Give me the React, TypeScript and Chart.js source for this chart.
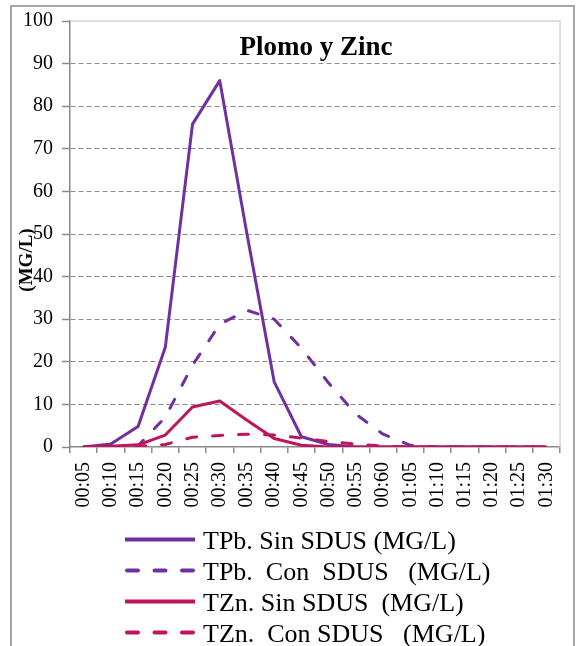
import React, { useEffect, useRef } from "react";
import { Chart, registerables } from "chart.js";

Chart.register(...registerables);

const categories = [
  "00:05", "00:10", "00:15", "00:20", "00:25", "00:30", "00:35", "00:40", "00:45",
  "00:50", "00:55", "00:60", "01:05", "01:10", "01:15", "01:20", "01:25", "01:30",
];

const tpbSin = [0, 0.7, 4.8, 23.4, 75.8, 86.0, 50.0, 15.3, 2.4, 0.6, 0, 0, 0, 0, 0, 0, 0, 0];
const tpbCon = [0, 0, 0.3, 7.0, 19.2, 28.8, 32.1, 30.0, 23.2, 15.0, 7.7, 3.0, 0.4, 0, 0, 0, 0, 0];
const tznSin = [0, 0.2, 0.5, 2.8, 9.4, 10.8, 6.3, 2.0, 0.4, 0, 0, 0, 0, 0, 0, 0, 0, 0];
const tznCon = [0, 0, 0.2, 0.6, 2.3, 2.7, 3.0, 2.8, 2.1, 1.3, 0.7, 0.2, 0, 0, 0, 0, 0, 0];

const seriesNames = [
  "TPb. Sin SDUS (MG/L)",
  "TPb.  Con  SDUS   (MG/L)",
  "TZn. Sin SDUS  (MG/L)",
  "TZn.  Con SDUS   (MG/L)",
];

const titleText = "Plomo y Zinc";
const yTitleText = "(MG/L)";
const yMin = 0;
const yMax = 100;
const yStep = 10;

const PURPLE = "#7030a0";
const MAGENTA = "#c0145c";
const SERIF = "'Liberation Serif', 'Times New Roman', serif";
const AXIS = "#8a8a8a";

const decorPlugin = {
  id: "decor",
  afterDraw(chart: any) {
    const { ctx, chartArea: ca } = chart;
    ctx.save();
    // light plot frame (top and right)
    ctx.strokeStyle = "#d4d4d4";
    ctx.lineWidth = 1.5;
    ctx.setLineDash([]);
    ctx.beginPath();
    ctx.moveTo(ca.left, ca.top);
    ctx.lineTo(ca.right, ca.top);
    ctx.lineTo(ca.right, ca.bottom);
    ctx.stroke();

    // title
    ctx.fillStyle = "#000";
    ctx.font = `bold 27px ${SERIF}`;
    ctx.textAlign = "center";
    ctx.textBaseline = "alphabetic";
    ctx.fillText(titleText, (ca.left + ca.right) / 2 + 1, 55);

    // y axis title
    ctx.save();
    ctx.translate(27, 260);
    ctx.rotate(-Math.PI / 2);
    ctx.font = `bold 19px ${SERIF}`;
    ctx.textAlign = "center";
    ctx.textBaseline = "middle";
    ctx.fillText(yTitleText, 0, 0);
    ctx.restore();

    // legend
    const x0 = 125;
    const x1 = 195;
    chart.data.datasets.forEach((ds: any, i: number) => {
      const y = 539.5 + i * 31;
      ctx.save();
      ctx.strokeStyle = ds.borderColor;
      ctx.lineWidth = 4;
      const dashed = ds.borderDash && ds.borderDash.length > 0;
      ctx.lineCap = dashed ? "round" : "butt";
      ctx.setLineDash(dashed ? [11, 16.5] : []);
      ctx.beginPath();
      ctx.moveTo(x0 + (dashed ? 2 : 0), y);
      ctx.lineTo(x1, y);
      ctx.stroke();
      ctx.restore();
      ctx.fillStyle = "#000";
      ctx.font = `26px ${SERIF}`;
      ctx.textAlign = "left";
      ctx.textBaseline = "alphabetic";
      ctx.fillText(ds.label, 203, y + 9);
    });
    ctx.restore();
  },
};

export default function App() {
  const canvasRef = useRef<HTMLCanvasElement | null>(null);

  useEffect(() => {
    if (!canvasRef.current) return;
    const mk = (label: string, data: number[], color: string, dashed: boolean, order: number) => ({
      label,
      data,
      borderColor: color,
      backgroundColor: color,
      borderWidth: 3,
      borderDash: dashed ? [10, 16] : [],
      borderCapStyle: dashed ? "round" : "butt",
      borderJoinStyle: "round",
      pointRadius: 0,
      pointHoverRadius: 0,
      tension: 0,
      fill: false,
      order,
    });
    const chart = new Chart(canvasRef.current, {
      type: "line",
      data: {
        labels: categories,
        datasets: [
          mk(seriesNames[0], tpbSin, PURPLE, false, 4),
          mk(seriesNames[1], tpbCon, PURPLE, true, 3),
          mk(seriesNames[2], tznSin, MAGENTA, false, 2),
          mk(seriesNames[3], tznCon, MAGENTA, true, 1),
        ] as any,
      },
      options: {
        responsive: false,
        animation: false,
        events: [],
        layout: { padding: { top: 21, right: 19, bottom: 0, left: 0 } },
        plugins: {
          legend: { display: false },
          title: { display: false },
          tooltip: { enabled: false },
        },
        scales: {
          x: {
            type: "category",
            offset: true,
            afterFit: (s: any) => {
              s.height = 199;
            },
            grid: {
              display: true,
              drawOnChartArea: false,
              offset: true,
              tickLength: 6,
              color: AXIS,
              tickColor: AXIS,
              lineWidth: 1.5,
            },
            border: { display: true, color: AXIS, width: 1.5 },
            ticks: {
              minRotation: 90,
              maxRotation: 90,
              autoSkip: false,
              padding: 9,
              color: "#000",
              font: { family: SERIF, size: 20 },
            },
          },
          y: {
            min: yMin,
            max: yMax,
            afterFit: (s: any) => {
              s.width = 70;
            },
            grid: {
              color: (c: any) =>
                c.tick && (c.tick.value === yMax || c.tick.value === yMin) ? "rgba(0,0,0,0)" : "#8c8c8c",
              tickColor: AXIS,
              tickLength: 8,
              lineWidth: 1,
              tickWidth: 1.5,
            },
            border: { display: true, color: AXIS, width: 1.5, dash: [5, 3] },
            ticks: {
              stepSize: yStep,
              padding: 9,
              color: "#000",
              font: { family: SERIF, size: 20 },
            },
          },
        },
      },
      plugins: [decorPlugin],
    } as any);
    return () => chart.destroy();
  }, []);

  return (
    <div
      style={{
        position: "absolute",
        left: 0,
        top: 0,
        width: 580,
        height: 646,
        overflow: "hidden",
        background: "#fff",
      }}
    >
      <div
        style={{
          position: "absolute",
          left: 10,
          top: 5,
          width: 565,
          height: 700,
          border: "2px solid #a6a6a6",
          boxSizing: "border-box",
        }}
      />
      <canvas
        ref={canvasRef}
        width={580}
        height={646}
        style={{ position: "absolute", left: 0, top: 0, width: 580, height: 646 }}
      />
    </div>
  );
}
